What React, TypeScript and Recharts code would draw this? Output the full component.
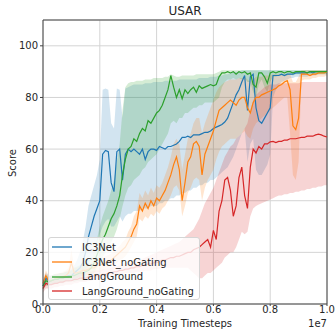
import React from 'react';
import {
    ComposedChart,
    Line,
    Area,
    XAxis,
    YAxis,
    CartesianGrid,
    Legend,
    ReferenceLine,
} from 'recharts';

// training steps, in units of 1e5 timesteps
const steps = [
    0, 1, 2, 3, 4, 5, 6, 7, 8, 9, 10, 11, 12, 13, 14, 15, 16, 17, 18, 19, 20,
    21, 22, 23, 24, 25, 26, 27, 28, 29, 30, 31, 32, 33, 34, 35, 36, 37, 38, 39, 40,
    41, 42, 43, 44, 45, 46, 47, 48, 49, 50, 51, 52, 53, 54, 55, 56, 57, 58, 59, 60,
    61, 62, 63, 64, 65, 66, 67, 68, 69, 70, 71, 72, 73, 74, 75, 76, 77, 78, 79, 80,
    81, 82, 83, 84, 85, 86, 87, 88, 89, 90, 91, 92, 93, 94, 95, 96, 97, 98, 99, 100,
];

const xTicks = [0, 20, 40, 60, 80, 100];
const xTickLabels = ['0.0', '0.2', '0.4', '0.6', '0.8', '1.0'];
const yTicks = [0, 20, 40, 60, 80, 100];

// IC3Net
const ic3Mean = [
    7, 10, 9, 9, 9.5, 9.5, 10, 10, 10.5, 11, 11,
    12, 13, 14, 16, 20, 26, 30, 34, 37, 40,
    58, 59.5, 59, 47, 43.5, 59, 60, 48, 58, 60,
    59, 60, 59, 58, 60, 56, 59, 60, 60, 59.5,
    61, 60.5, 60, 61, 61, 61.5, 62, 63, 64.5, 64.5,
    65, 64.5, 65.5, 65.5, 65.5, 66, 66.5, 66.5, 67, 68,
    68.5, 69, 69.5, 70.5, 72, 75, 78, 81, 83, 86,
    88.5, 75, 88, 89, 76, 71, 70, 72, 74, 76,
    88.5, 88.5, 88.5, 89, 88.5, 89, 89, 89, 89.5, 89.5,
    89.5, 89.5, 89.5, 90, 89.5, 90, 90, 90, 90, 90,
];
const ic3Lo = [
    5.5, 8, 7.5, 7.5, 8, 8, 8.5, 8.5, 9, 9, 9,
    9.5, 10, 10.5, 11, 12, 15, 18, 21, 24, 27,
    30, 32, 33, 30, 30, 32, 34, 32, 34, 35,
    35, 36, 36, 36, 37, 37, 37, 38, 38, 38,
    39, 39, 40, 40, 41, 41, 42, 42, 43, 43,
    44, 44, 45, 45, 46, 46, 47, 47, 48, 48,
    49, 50, 51, 52, 53, 55, 57, 60, 63, 66,
    68, 55, 62, 64, 52, 50, 50, 52, 54, 58,
    80, 83, 85, 86, 86.5, 87, 87.5, 87.5, 88, 88,
    88, 88, 88, 88.5, 88.5, 88.5, 89, 89, 89, 89,
];
const ic3Hi = [
    9, 12, 11, 11, 11.5, 11.5, 12, 12, 12.5, 13, 13.5,
    15, 17, 20, 24, 30, 38, 42, 46, 50, 56,
    83, 83.5, 83, 70, 68, 83.5, 83, 72, 83.5, 84,
    84.5, 85, 85, 85, 85, 85.5, 85.5, 85.5, 86, 86,
    86, 86, 86.5, 86.5, 86.5, 86.5, 86.5, 87, 87, 87,
    87, 87, 87, 87, 87.5, 87.5, 87.5, 87.5, 88, 88,
    88, 88.5, 88.5, 89, 89, 89.5, 90, 90, 90, 90.5,
    90.5, 90.5, 90.5, 90.5, 90.5, 90.5, 90.5, 90.5, 90.5, 90.5,
    90.5, 90.5, 90.5, 90.5, 90.5, 90.5, 90.5, 90.5, 90.5, 90.5,
    90.5, 90.5, 90.5, 90.5, 90.5, 90.5, 90.5, 90.5, 90.5, 90.5,
];

// IC3Net_noGating
const ic3NgMean = [
    8, 11, 9, 9, 9.5, 10, 10, 10.5, 11, 12, 16,
    12, 12, 12.5, 13, 13, 13.5, 14, 14, 15, 15,
    15.5, 16, 16.5, 17, 18, 19, 20, 21, 22, 24,
    26, 29, 31, 38, 36, 39, 37, 40, 38, 41,
    40, 42, 44, 47, 50, 54, 57, 52, 40, 47,
    55, 57, 62, 63, 61, 50, 58, 61, 64, 67,
    71, 75, 76, 77, 78, 79, 78, 77, 79, 80,
    80, 76, 74, 78, 80, 80, 81, 81.5, 82, 82.5,
    83, 83.5, 84.5, 85, 86, 86.5, 83, 69, 67.5, 72,
    89, 89, 89, 88.5, 89, 89, 89.5, 89.5, 89.5, 90,
];
const ic3NgLo = [
    6.5, 9, 7.5, 7.5, 8, 8, 8.5, 8.5, 9, 9.5, 10,
    10, 10, 10.5, 11, 11, 11.5, 12, 12, 12.5, 12.5,
    13, 13.5, 14, 14.5, 15, 16, 17, 17.5, 18.5, 20,
    22, 24, 26, 33, 32, 34, 33, 35, 34, 36,
    35, 37, 38, 40, 42, 45, 46, 44, 34, 38,
    43, 45, 48, 49, 48, 40, 45, 48, 50, 52,
    56, 59, 61, 62, 63, 64, 64, 64, 65, 66,
    67, 65, 64, 68, 70, 71, 72, 73, 74, 75,
    76, 77, 78, 79, 80, 80, 66, 50, 48, 55,
    86.5, 87, 87, 87, 87.5, 87.5, 88, 88, 88, 88.5,
];
const ic3NgHi = [
    9.5, 13, 11, 11, 11.5, 12, 12, 12.5, 13, 14, 21,
    14, 14, 14.5, 15, 15, 15.5, 16, 16.5, 17.5, 17.5,
    18, 18.5, 19, 19.5, 20.5, 21.5, 22.5, 24, 25, 28,
    30, 34, 36, 43, 41, 44, 42, 45, 43, 46,
    45, 47, 50, 53, 57, 62, 64, 62, 52, 58,
    64, 66, 70, 72, 72, 66, 70, 73, 76, 79,
    82, 84, 85, 86, 86.5, 87, 87, 87, 87.5, 87.5,
    88, 87, 86, 87, 88, 88, 88, 88.5, 88.5, 88.5,
    89, 89, 89, 89, 89, 89, 89, 86, 86, 88,
    90.5, 90.5, 90.5, 90.5, 90.5, 90.5, 90.5, 90.5, 90.5, 90.5,
];

// LangGround
const lgMean = [
    7, 9, 8.5, 9, 9.5, 9.5, 10, 10, 10.5, 10.5, 11,
    11, 11.5, 12, 12, 12.5, 13, 14, 16, 19, 22,
    25, 27, 30, 33, 35, 38, 42, 50, 56, 60,
    61, 64, 63, 66, 68, 67, 71, 70, 72, 74,
    75, 77, 80, 83, 88.5, 84, 80, 83, 79.5, 83,
    81.5, 83, 84, 82, 84.5, 83.5, 84, 84.5, 85, 84.5,
    85, 88, 89.5, 89.5, 90, 89.5, 90, 89, 90, 89.5,
    90, 89, 89.5, 85, 84, 89.5, 89.5, 88, 85.5, 89.5,
    90, 89.5, 90, 90, 89.5, 90, 90, 89.5, 90, 90,
    90, 90, 89.5, 90, 90, 90, 90, 90, 90, 90,
];
const lgLo = [
    5.5, 7, 7, 7.5, 7.5, 8, 8, 8, 8.5, 8.5, 9,
    8.5, 9, 9, 9, 9.5, 10, 10.5, 12, 14, 16,
    18, 20, 22, 24, 26, 29, 33, 38, 42, 45,
    46, 48, 49, 50, 52, 53, 55, 56, 57, 58,
    60, 62, 64, 66, 70, 71, 70, 72, 72, 74,
    74, 75, 76, 76, 77, 77, 78, 78, 78, 78,
    79, 80, 84, 86, 87, 87, 87.5, 87, 87.5, 87,
    87.5, 86, 86, 82, 80, 85, 87, 84, 82, 86,
    88, 88, 88.5, 88.5, 88.5, 88.5, 89, 88.5, 89, 89,
    89, 89, 89, 89, 89, 89, 89, 89, 89, 89,
];
const lgHi = [
    9, 11, 10.5, 11, 11.5, 11.5, 12, 12, 12.5, 12.5, 13,
    14, 14.5, 15, 15.5, 16, 17, 18, 21, 25, 30,
    34, 37, 40, 44, 48, 55, 62, 75, 84, 85.5,
    86, 86, 86.5, 86.5, 86.5, 87, 87, 87, 87.5, 87.5,
    87.5, 87.5, 88, 88, 89, 88.5, 88, 88, 88.5, 88.5,
    88.5, 88.5, 88.5, 89, 89, 89, 89, 89, 89, 89,
    89.5, 90, 90.5, 90.5, 90.5, 90.5, 90.5, 90.5, 90.5, 90.5,
    90.5, 90.5, 90.5, 90.5, 90.5, 90.5, 90.5, 90.5, 90.5, 90.5,
    90.5, 90.5, 90.5, 90.5, 90.5, 90.5, 90.5, 90.5, 90.5, 90.5,
    90.5, 90.5, 90.5, 90.5, 90.5, 90.5, 90.5, 90.5, 90.5, 90.5,
];

// LangGround_noGating
const lgNgMean = [
    6, 8, 7.5, 7.5, 8, 8, 8.5, 8.5, 9, 9, 9,
    9.5, 9.5, 10, 10, 10, 10.5, 10.5, 11, 11, 11,
    11.5, 11.5, 12, 12, 12.5, 12.5, 13, 13, 13.5, 13.5,
    14, 14, 14.5, 14.5, 15, 15, 15.5, 15.5, 16, 16,
    16.5, 17, 17, 17.5, 18, 18, 18.5, 18.5, 19, 19.5,
    20, 20, 21, 21.5, 22, 23, 24, 25, 22, 28.5,
    25, 36, 40, 48, 49, 44, 34, 38, 49, 53,
    42, 37, 53, 60, 58.5, 61, 60, 62, 62, 62.8,
    63, 62.5, 63, 63, 63.5, 63.5, 64, 64, 64, 64.3,
    64.5, 64.5, 65, 65, 65, 65.5, 65.8, 65.5, 65, 64.7,
];
const lgNgLo = [
    4.5, 6, 6, 6, 6.5, 6.5, 7, 7, 7.5, 7.5, 7.5,
    8, 8, 8.5, 8.5, 8.5, 9, 9, 9.5, 9.5, 9.5,
    10, 10, 10.5, 10.5, 11, 11, 11.5, 11.5, 12, 12,
    12, 12, 12.5, 12.5, 12.5, 13, 13, 13, 13.5, 13.5,
    13.5, 14, 14, 14, 14, 14, 14, 14, 14, 14,
    14, 13, 12, 11, 10, 10, 11, 12, 12, 13,
    14, 15, 16, 18, 19, 20, 20, 22, 25, 28,
    27, 28, 34, 37, 38, 38.5, 39, 39.5, 40, 40.5,
    41, 41.5, 42, 42, 42.5, 42.5, 43, 43, 43.5, 43.5,
    44, 44, 44.5, 44.5, 45, 45, 45.5, 45.5, 46, 46,
];
const lgNgHi = [
    8, 10, 9.5, 9.5, 10, 10, 10.5, 10.5, 11, 11, 11,
    11.5, 11.5, 12, 12, 12, 12.5, 12.5, 13, 13, 13,
    13.5, 13.5, 14, 14, 14.5, 14.5, 15, 15, 15.5, 15.5,
    16, 16.5, 17, 17, 17.5, 18, 18.5, 19, 19.5, 20,
    20.5, 21, 21.5, 22, 22.5, 23, 23.5, 24, 25, 26,
    27, 28, 29, 31, 33, 36, 39, 41, 43, 45,
    48, 51, 54, 57, 59, 61, 62, 64, 65, 66,
    68, 70, 75, 79, 81, 82, 83, 84, 84.5, 85,
    85, 85, 85.5, 85.5, 85.5, 85.5, 85.5, 85.5, 85.5, 85.5,
    86, 86, 86, 86, 86, 86, 86, 86, 86, 86,
];

const series = [
    { key: 'ic3', name: 'IC3Net', color: '#1f77b4', mean: ic3Mean, lo: ic3Lo, hi: ic3Hi },
    { key: 'ic3ng', name: 'IC3Net_noGating', color: '#ff7f0e', mean: ic3NgMean, lo: ic3NgLo, hi: ic3NgHi },
    { key: 'lg', name: 'LangGround', color: '#2ca02c', mean: lgMean, lo: lgLo, hi: lgHi },
    { key: 'lgng', name: 'LangGround_noGating', color: '#d62728', mean: lgNgMean, lo: lgNgLo, hi: lgNgHi },
];

const data = steps.map((t, i) => {
    const row: Record<string, any> = { t };
    series.forEach((s) => {
        row[s.key] = s.mean[i];
        row[s.key + 'Band'] = [s.lo[i], s.hi[i]];
    });
    return row;
});

const font = 'DejaVu Sans, sans-serif';
const textColor = '#262626';

function LegendBox() {
    return (
        <div
            style={{
                position: 'absolute',
                left: 48,
                top: 237,
                width: 152,
                height: 63,
                boxSizing: 'border-box',
                border: '1px solid #d5d5d5',
                borderRadius: 3,
                background: 'rgba(255,255,255,0.8)',
                padding: '2px 0 0 3px',
                fontFamily: font,
                fontSize: 10,
                color: textColor,
            }}
        >
            {series.map((s) => (
                <div key={s.key} style={{ display: 'flex', alignItems: 'center', height: 14.7 }}>
                    <svg width={20} height={4} style={{ marginRight: 10 }}>
                        <line x1={0} y1={2} x2={20} y2={2} stroke={s.color} strokeWidth={1.3} />
                    </svg>
                    <span>{s.name}</span>
                </div>
            ))}
        </div>
    );
}

export default function App() {
    return (
        <div style={{ position: 'absolute', left: 0, top: 0, width: 336, height: 333, background: '#fff' }}>
            <ComposedChart
                width={336}
                height={333}
                data={data}
                margin={{ top: 20, right: 9, bottom: 0, left: 8 }}
            >
                <CartesianGrid stroke="#d4d4d4" strokeWidth={1} />
                <XAxis
                    dataKey="t"
                    type="number"
                    domain={[0, 100]}
                    ticks={xTicks}
                    tickFormatter={(v) => xTickLabels[xTicks.indexOf(v)]}
                    height={29}
                    tickSize={2}
                    tickMargin={0}
                    axisLine={{ stroke: '#444' }}
                    tickLine={{ stroke: '#444' }}
                    tick={{ fill: textColor, fontSize: 10, fontFamily: font }}
                />
                <YAxis
                    type="number"
                    domain={[0, 110]}
                    ticks={yTicks}
                    allowDataOverflow
                    width={35}
                    tickSize={3}
                    tickMargin={2}
                    axisLine={{ stroke: '#444' }}
                    tickLine={{ stroke: '#444' }}
                    tick={{ fill: textColor, fontSize: 10, fontFamily: font }}
                />
                <ReferenceLine y={110} stroke="#444" />
                <ReferenceLine x={100} stroke="#444" />
                {series.map((s) => [
                    <Area
                        key={s.key + 'Band'}
                        dataKey={s.key + 'Band'}
                        type="linear"
                        stroke="none"
                        fill={s.color}
                        fillOpacity={0.2}
                        legendType="none"
                        dot={false}
                        activeDot={false}
                        isAnimationActive={false}
                    />,
                    <Line
                        key={s.key}
                        dataKey={s.key}
                        name={s.name}
                        type="linear"
                        stroke={s.color}
                        strokeWidth={1.2}
                        dot={false}
                        activeDot={false}
                        isAnimationActive={false}
                    />,
                ])}
            </ComposedChart>
            <LegendBox />
            <div
                style={{
                    position: 'absolute',
                    left: 43,
                    width: 284,
                    top: 4,
                    textAlign: 'center',
                    fontFamily: font,
                    fontSize: 12,
                    color: textColor,
                }}
            >
                USAR
            </div>
            <div
                style={{
                    position: 'absolute',
                    left: 43,
                    width: 284,
                    top: 318,
                    textAlign: 'center',
                    fontFamily: font,
                    fontSize: 10,
                    color: textColor,
                }}
            >
                Training Timesteps
            </div>
            <div
                style={{
                    position: 'absolute',
                    right: 9,
                    top: 318,
                    fontFamily: font,
                    fontSize: 10,
                    color: textColor,
                }}
            >
                1e7
            </div>
            <div
                style={{
                    position: 'absolute',
                    left: 12,
                    top: 163,
                    transform: 'translate(-50%, -50%) rotate(-90deg)',
                    fontFamily: font,
                    fontSize: 10,
                    color: textColor,
                }}
            >
                Score
            </div>
        </div>
    );
}
